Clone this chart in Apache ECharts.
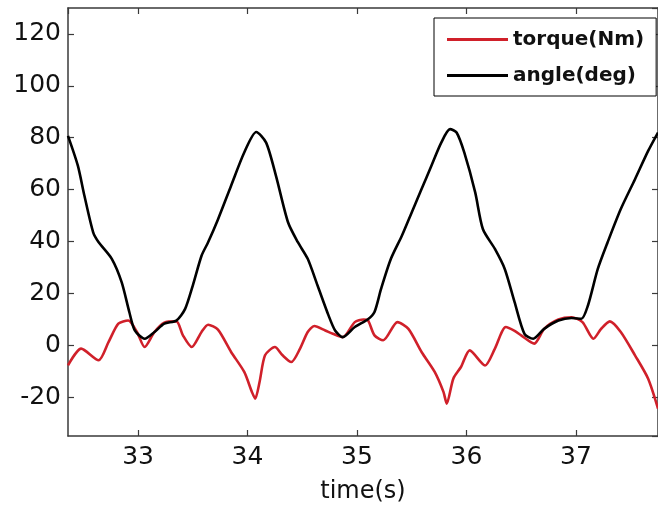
<!DOCTYPE html>
<html>
<head>
<meta charset="utf-8">
<script src="https://cdn.jsdelivr.net/npm/echarts@6/dist/echarts.min.js"></script>
<style>
  html, body { margin: 0; padding: 0; background: #fff; }
  #chart { width: 658px; height: 512px; }
</style>
</head>
<body>
<div id="chart"></div>
<script>
// values
const angleTime = [32.36, 32.45, 32.51, 32.59, 32.64, 32.76, 32.85, 32.92, 32.97, 33.06, 33.15, 33.24, 33.35, 33.43, 33.50, 33.58, 33.64, 33.73, 33.85, 33.97, 34.08, 34.17, 34.26, 34.37, 34.46, 34.55, 34.64, 34.74, 34.80, 34.87, 34.98, 35.10, 35.16, 35.22, 35.31, 35.41, 35.50, 35.59, 35.68, 35.77, 35.85, 35.91, 35.98, 36.08, 36.15, 36.26, 36.35, 36.44, 36.53, 36.61, 36.71, 36.84, 36.96, 37.05, 37.11, 37.20, 37.29, 37.41, 37.54, 37.66, 37.75]
const angleDeg = [80.7, 69.2, 57.6, 43.5, 39.7, 33.3, 24.3, 12.8, 5.7, 2.5, 5.1, 8.3, 9.5, 14, 23, 34.5, 39.7, 48.5, 61.5, 74.3, 82.2, 78.1, 65.3, 47.4, 39.7, 33.3, 23, 11.5, 5.7, 3.1, 7, 10, 12.8, 21.7, 33.3, 42.2, 51.2, 60.2, 69.2, 78.1, 83.3, 82, 74.3, 58.9, 44.8, 37.1, 29.4, 16.6, 4.4, 2.5, 6.3, 9.5, 10.5, 10.2, 15.3, 29.4, 39.7, 52.5, 64, 74.9, 82]

const torqueTime = [32.36, 32.48, 32.64, 32.73, 32.82, 32.91, 32.99, 33.06, 33.15, 33.24, 33.35, 33.41, 33.49, 33.58, 33.64, 33.73, 33.85, 33.97, 34.04, 34.07, 34.11, 34.16, 34.25, 34.32, 34.40, 34.48, 34.55, 34.61, 34.71, 34.78, 34.87, 34.98, 35.06, 35.10, 35.16, 35.24, 35.37, 35.47, 35.59, 35.71, 35.79, 35.82, 35.88, 35.95, 36.03, 36.17, 36.26, 36.36, 36.44, 36.50, 36.62, 36.71, 36.84, 36.96, 37.06, 37.16, 37.23, 37.31, 37.41, 37.54, 37.66, 37.75]
const torqueNm = [-7.8, -1.3, -5.8, 1.2, 8.3, 9.5, 5.1, -0.7, 5.1, 8.7, 9.2, 3.8, -0.7, 5.1, 7.9, 6, -2.6, -10.3, -18, -20.6, -14.2, -3.9, -0.7, -3.9, -6.5, -1.3, 5.1, 7.4, 5.7, 4.4, 3.1, 8.9, 9.9, 9.6, 3.8, 1.9, 8.9, 6.3, -2.6, -10.3, -18, -22.5, -12.9, -8.4, -2, -7.8, -1.3, 7, 5.5, 3.8, 0.6, 6.3, 9.9, 10.8, 8.9, 2.5, 6.3, 9.2, 5.1, -3.9, -12.9, -24.4]

const seriesNames = ["torque(Nm)", "angle(deg)"]
const xName = "time(s)"

const zip = (xs, ys) => xs.map((x, i) => [x, ys[i]])

const frame = "#3a3a3a"
const font = "DejaVu Sans"

const chart = echarts.init(document.getElementById("chart"), null, { renderer: "canvas" })

// shared axis look: MATLAB style box, ticks pointing inward
const xBase = {
  type: "value",
  min: 32.36,
  max: 37.75,
  minInterval: 1,
  maxInterval: 1,
  splitLine: { show: false },
  axisLine: { show: true, onZero: false, lineStyle: { color: frame, width: 1.5 } },
  axisTick: { show: true, inside: true, length: 6, lineStyle: { color: frame, width: 1.2 } },
}
const yBase = {
  type: "value",
  min: -35,
  max: 130,
  minInterval: 20,
  maxInterval: 20,
  splitLine: { show: false },
  axisLine: { show: true, onZero: false, lineStyle: { color: frame, width: 1.5 } },
  axisTick: { show: true, inside: true, length: 6, lineStyle: { color: frame, width: 1.2 } },
}

chart.setOption({
  animation: false,
  backgroundColor: "#fff",
  grid: { left: 68, top: 8, right: -1, bottom: 76 },
  xAxis: [
    Object.assign({}, xBase, {
      position: "bottom",
      name: xName,
      nameLocation: "middle",
      nameGap: 44,
      nameTextStyle: { fontFamily: font, fontSize: 24, color: "#111" },
      axisLabel: {
        fontFamily: font, fontSize: 25, color: "#111", margin: 9,
        showMinLabel: false, showMaxLabel: false,
      },
    }),
    Object.assign({}, xBase, { position: "top", axisLabel: { show: false } }),
  ],
  yAxis: [
    Object.assign({}, yBase, {
      position: "left",
      axisLabel: {
        fontFamily: font, fontSize: 25, color: "#111", margin: 7,
        showMinLabel: false, showMaxLabel: false,
      },
    }),
    Object.assign({}, yBase, { position: "right", axisLabel: { show: false } }),
  ],
  legend: {
    orient: "vertical",
    left: 434,
    top: 18,
    padding: [10, 12, 9, 13],
    itemGap: 13,
    itemWidth: 61,
    itemHeight: 3,
    icon: "rect",
    backgroundColor: "#fff",
    borderColor: "#000",
    borderWidth: 1,
    borderRadius: 0,
    textStyle: { fontFamily: font, fontSize: 20, fontWeight: "bold", color: "#111", lineHeight: 23 },
    data: seriesNames,
  },
  series: [
    {
      name: seriesNames[0],
      type: "line",
      data: zip(torqueTime, torqueNm),
      showSymbol: false,
      smooth: 0.25,
      clip: true,
      lineStyle: { color: "#d0202a", width: 2.6 },
      itemStyle: { color: "#d0202a" },
    },
    {
      name: seriesNames[1],
      type: "line",
      data: zip(angleTime, angleDeg),
      showSymbol: false,
      smooth: 0.25,
      clip: true,
      lineStyle: { color: "#000", width: 2.6 },
      itemStyle: { color: "#000" },
    },
  ],
})
</script>
</body>
</html>
